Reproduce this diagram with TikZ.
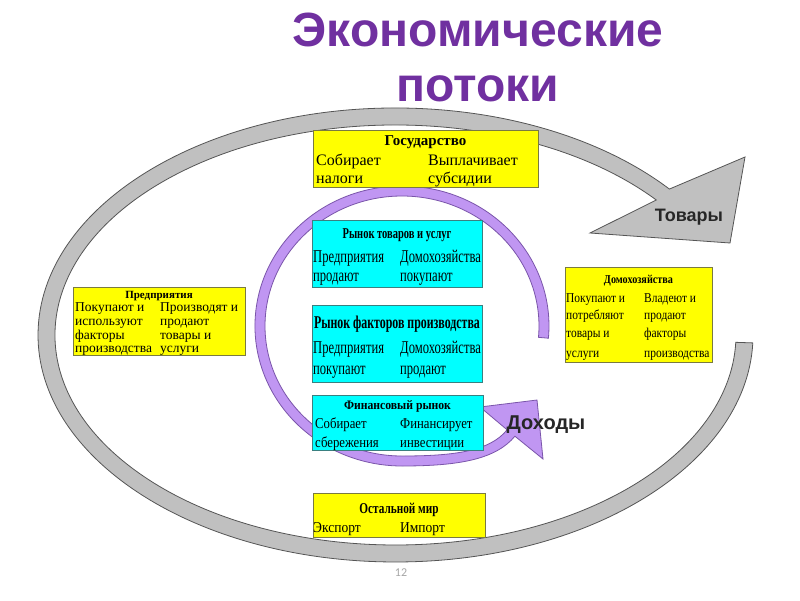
\documentclass[tikz,border=0pt]{standalone}
\usepackage{fontspec}
\setmainfont{Liberation Serif}
\newfontfamily\hdfont{Liberation Sans}
\newfontfamily\numfont{Carlito}
\newfontfamily\sA{Liberation Serif}
\newfontfamily\sB[FakeStretch=0.7]{Liberation Serif}
\newfontfamily\sF[FakeStretch=0.66]{Liberation Serif}
\newfontfamily\sC[FakeStretch=0.85]{Liberation Serif}
\newfontfamily\sD[FakeStretch=0.9]{Liberation Serif}
\newfontfamily\sE[FakeStretch=0.75]{Liberation Serif}
\newcommand\fz[1]{\fontsize{#1}{#1}\selectfont}
\definecolor{ttlpurple}{HTML}{7030A0}
\definecolor{bandgray}{HTML}{C0C0C0}
\definecolor{bandline}{HTML}{555555}
\definecolor{lilac}{HTML}{C096F2}
\definecolor{lilacline}{HTML}{7A55AA}
\definecolor{boxyellow}{HTML}{FFFF00}
\definecolor{yline}{HTML}{7A7A40}
\definecolor{boxcyan}{HTML}{00FFFF}
\definecolor{cline}{HTML}{3A8080}
\tikzset{
 grayband/.style={fill=bandgray, draw=bandline, line width=0.8pt, line join=miter},
 lilacband/.style={fill=lilac, draw=lilacline, line width=0.8pt, line join=miter},
 ybox/.style={draw=yline, fill=boxyellow, line width=0.9pt, inner sep=0pt, outer sep=0pt},
 cbox/.style={draw=cline, fill=boxcyan, line width=0.9pt, inner sep=0pt, outer sep=0pt},
 tx/.style={inner sep=0pt, anchor=base west},
 hd/.style={inner sep=0pt, anchor=base},
 govhd/.style={hd, font=\sA\bfseries\fz{15}},
 govtx/.style={tx, font=\sA\fz{16}},
 mkhd/.style={hd, font=\sB\bfseries\fz{15}},
 mktx/.style={tx, font=\sB\fz{18}},
 fchd/.style={hd, font=\sF\bfseries\fz{18}},
 finhd/.style={hd, font=\sD\bfseries\fz{13}},
 fintx/.style={tx, font=\sC\fz{15}},
 wdhd/.style={hd, font=\sE\bfseries\fz{15}},
 wdtx/.style={tx, font=\sD\fz{15}},
 frhd/.style={hd, font=\sA\bfseries\fz{11}},
 frtx/.style={tx, font=\sA\fz{13.5}},
 hhhd/.style={hd, font=\sC\bfseries\fz{12}},
 hhtx/.style={tx, font=\sC\fz{13.5}},
 bigttl/.style={hd, font=\hdfont\bfseries\fz{48}, text=ttlpurple},
 flowlbl/.style={hd, font=\hdfont\bfseries\fz{18}, text=black!85},
}
\begin{document}
\begin{tikzpicture}[x=1pt,y=1pt]
\useasboundingbox (0,0) rectangle (800,-600);
\fill[white] (0,0) rectangle (800,-600);

% title
\node[bigttl] (t1) at (478,-46) {Экономические};
\node[bigttl] (t2) at (478,-101) {потоки};

% outer gray flow (goods)
\draw[grayband] (752.8,-342.9) arc[start angle=-2, end angle=-320, x radius=357.5, y radius=227]
  -- (745,-157) -- (730,-243) -- (590,-233) -- (656.3,-200.0)
  arc[start angle=-320, end angle=-2, x radius=340.5, y radius=210] -- cycle;

% inner purple flow (incomes)
\draw[lilacband] (548.4,-338.2) arc[start angle=-5, end angle=270, x radius=147, y radius=140]
  .. controls (460,-466) and (496,-459) .. (514.9,-436.2)
  -- (543,-459) -- (537,-400) -- (480,-407) -- (507.1,-429.8)
  .. controls (490,-451) and (455,-456) .. (402,-456)
  arc[start angle=270, end angle=-5, x radius=137, y radius=130] -- cycle;

% boxes
\node[ybox, minimum width=225pt, minimum height=57pt] (gov) at (425.5,-158.5) {};
\node[cbox, minimum width=170pt, minimum height=67pt] (goods) at (397,-253.5) {};
\node[cbox, minimum width=170pt, minimum height=77pt] (factors) at (397,-343.5) {};
\node[cbox, minimum width=171pt, minimum height=55pt] (fin) at (397.5,-422.5) {};
\node[ybox, minimum width=172pt, minimum height=44pt] (world) at (399,-515) {};
\node[ybox, minimum width=172pt, minimum height=68pt] (firms) at (159,-321) {};
\node[ybox, minimum width=147pt, minimum height=95pt] (hh) at (638.5,-314.5) {};

% government
\node[govhd] (govT) at (425.5,-145) {Государство};
\node[govtx] (govA1) at (316,-165.5) {Собирает};
\node[govtx] (govB1) at (428,-165.5) {Выплачивает};
\node[govtx] (govA2) at (316,-183) {налоги};
\node[govtx] (govB2) at (428,-183) {субсидии};

% goods market
\node[mkhd] (goodsT) at (397,-238) {Рынок товаров и услуг};
\node[mktx] (goodsA1) at (313,-262) {Предприятия};
\node[mktx] (goodsB1) at (400,-262) {Домохозяйства};
\node[mktx] (goodsA2) at (313,-281) {продают};
\node[mktx] (goodsB2) at (400,-281) {покупают};

% factor market
\node[fchd] (factT) at (397,-328) {Рынок факторов производства};
\node[mktx] (factA1) at (313,-353) {Предприятия};
\node[mktx] (factB1) at (400,-353) {Домохозяйства};
\node[mktx] (factA2) at (313,-374) {покупают};
\node[mktx] (factB2) at (400,-374) {продают};

% financial market
\node[finhd] (finT) at (397.5,-409) {Финансовый рынок};
\node[fintx] (finA1) at (315,-428) {Собирает};
\node[fintx] (finB1) at (400,-428) {Финансирует};
\node[fintx] (finA2) at (315,-447) {сбережения};
\node[fintx] (finB2) at (400,-447) {инвестиции};

% rest of world
\node[wdhd] (worldT) at (399,-513) {Остальной мир};
\node[wdtx] (worldA) at (313,-532) {Экспорт};
\node[wdtx] (worldB) at (400,-532) {Импорт};

% firms
\node[frhd] (firmsT) at (159,-298) {Предприятия};
\node[frtx] (frA1) at (75,-311) {Покупают и};
\node[frtx] (frB1) at (160,-311) {Производят и};
\node[frtx] (frA2) at (75,-325) {используют};
\node[frtx] (frB2) at (160,-325) {продают};
\node[frtx] (frA3) at (75,-339) {факторы};
\node[frtx] (frB3) at (160,-339) {товары и};
\node[frtx] (frA4) at (75,-352) {производства};
\node[frtx] (frB4) at (160,-352) {услуги};

% households
\node[hhhd] (hhT) at (638.5,-283) {Домохозяйства};
\node[hhtx] (hhA1) at (566,-302) {Покупают и};
\node[hhtx] (hhB1) at (644,-302) {Владеют и};
\node[hhtx] (hhA2) at (566,-319) {потребляют};
\node[hhtx] (hhB2) at (644,-319) {продают};
\node[hhtx] (hhA3) at (566,-337) {товары и};
\node[hhtx] (hhB3) at (644,-337) {факторы};
\node[hhtx] (hhA4) at (566,-357) {услуги};
\node[hhtx] (hhB4) at (644,-357) {производства};

% flow labels
\node[flowlbl] (goodsLbl) at (689,-221.5) {Товары};
\node[flowlbl, font=\hdfont\bfseries\fz{20}] (incLbl) at (546,-429) {Доходы};

% page number
\node[hd, font=\numfont\fz{12}, text=black!35] (pg) at (401,-576) {12};
\end{tikzpicture}
\end{document}
